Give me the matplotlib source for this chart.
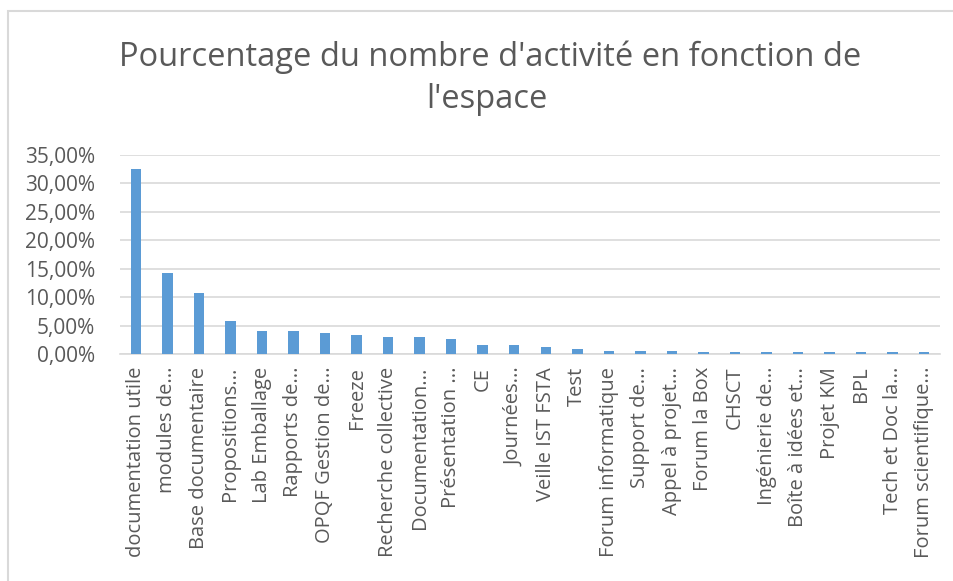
import matplotlib
matplotlib.use('Agg')
import matplotlib.pyplot as plt
import matplotlib.patches as mpatches
from matplotlib.ticker import FuncFormatter

# ── Data ───────────────────────────────────────────────────────────
espaces = [
    'documentation utile', 'modules de...', 'Base documentaire', 'Propositions...',
    'Lab Emballage', 'Rapports de...', 'OPQF Gestion de...', 'Freeze',
    'Recherche collective', 'Documentation...', 'Présentation ...', 'CE',
    'Journées...', 'Veille IST FSTA', 'Test', 'Forum informatique',
    'Support de...', 'Appel à projet...', 'Forum la Box', 'CHSCT',
    'Ingénierie de...', 'Boîte à idées et...', 'Projet KM', 'BPL',
    'Tech et Doc la...', 'Forum scientifique...',
]
pourcentages = [
    32.6, 14.3, 10.8, 5.9, 4.15, 4.15, 3.8, 3.45, 3.1, 3.1, 2.75, 1.7,
    1.7, 1.35, 1.0, 0.65, 0.65, 0.65, 0.35, 0.35, 0.35, 0.35, 0.35, 0.35,
    0.35, 0.35,
]
yticks = [0, 5, 10, 15, 20, 25, 30, 35]

GRIS = '#595959'
BLEU = '#5b9bd5'

plt.rcParams['font.family'] = ['Open Sans', 'DejaVu Sans']

fig = plt.figure(figsize=(9.54, 5.81), dpi=100)
ax = fig.add_axes([120 / 954, 1 - 354.3 / 581, 820 / 954, 199.3 / 581])

x = range(len(espaces))
ax.bar(x, pourcentages, width=0.33, color=BLEU, zorder=3)

ax.set_xlim(-0.5, len(espaces) - 0.5)
ax.set_ylim(0, 35)
ax.set_yticks(yticks)
ax.yaxis.set_major_formatter(FuncFormatter(lambda v, _: f'{v:.2f}%'.replace('.', ',')))
ax.set_xticks(list(x))
ax.set_xticklabels(espaces, rotation=90, va='top', ha='center')

ax.tick_params(axis='x', length=0, colors=GRIS, labelsize=14.5, pad=9)
ax.tick_params(axis='y', length=0, colors=GRIS, labelsize=15, pad=18)

ax.grid(axis='y', color='#d9d9d9', linewidth=1.2, zorder=0)
for side in ['top', 'right', 'left']:
    ax.spines[side].set_visible(False)
ax.spines['bottom'].set_color('#d9d9d9')
ax.spines['bottom'].set_linewidth(1.2)

# titre sur deux lignes
fig.text(490 / 954, 1 - 57 / 581, "Pourcentage du nombre d'activité en fonction de",
         ha='center', va='center', fontsize=23.5, color=GRIS)
fig.text(487 / 954, 1 - 100 / 581, "l'espace",
         ha='center', va='center', fontsize=23.5, color=GRIS)

# cadre du graphique
fig.patches.append(mpatches.Rectangle((8 / 954, -0.1), 1.2, 1 - 11 / 581 + 0.1,
                                      transform=fig.transFigure, fill=False,
                                      edgecolor='#d9d9d9', linewidth=1.5))

fig.savefig('out.png', dpi=100)
